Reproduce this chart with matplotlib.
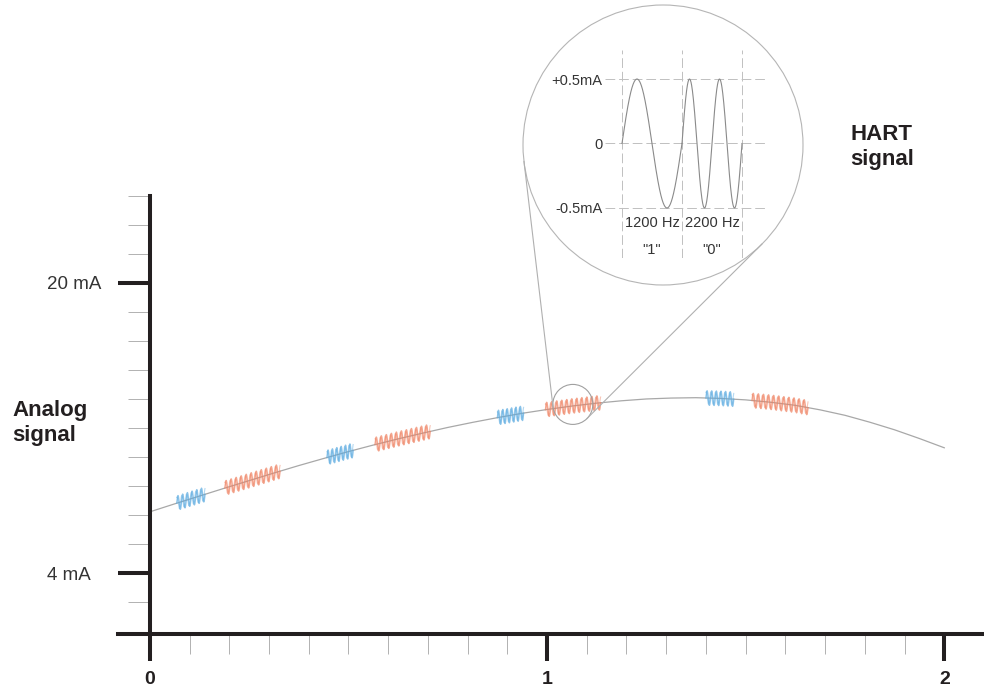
import numpy as np
import matplotlib
matplotlib.use("Agg")
import matplotlib.pyplot as plt
from matplotlib.patches import Circle

plt.rcParams['font.family'] = ['Liberation Sans', 'DejaVu Sans']

INK = '#231f20'
GRID = '#b3b3b3'

# analog loop current (mA), time in arbitrary units
t_pts = [0, 0.0625, 0.125, 0.1875, 0.25, 0.3125, 0.375, 0.4375, 0.5,
         0.5625, 0.625, 0.6875, 0.75, 0.8125, 0.875, 0.9375, 1.0,
         1.0625, 1.125, 1.1875, 1.25, 1.3125, 1.375, 1.4375, 1.5,
         1.5625, 1.625, 1.6875, 1.75, 1.8125, 1.875, 1.9375, 2.0]
ma_pts = [7.38, 7.82, 8.25, 8.68, 9.10, 9.52, 9.93, 10.32, 10.70,
          11.06, 11.40, 11.72, 12.03, 12.31, 12.57, 12.81, 13.02,
          13.21, 13.37, 13.50, 13.60, 13.65, 13.67, 13.63, 13.55,
          13.42, 13.25, 13.00, 12.70, 12.32, 11.90, 11.42, 10.91]

# HART bursts riding on the analog signal
burst_start = [0.068, 0.189, 0.446, 0.567, 0.875, 0.996, 1.400, 1.516]
burst_end = [0.139, 0.328, 0.512, 0.706, 0.941, 1.135, 1.470, 1.657]
burst_bit = ['1', '0', '1', '0', '1', '0', '1', '0']
burst_cycles = {'1': 6, '0': 11}
burst_color = {'1': '#5aaae0', '0': '#ef8060'}
burst_amp = 0.4

y_major = [4, 20]
y_major_labels = ['4 mA', '20 mA']
x_major = [0, 1, 2]

# magnified view: one bit of each frequency
bit_edges = [0, 1, 2]
bit_cycles = [1, 2]
bit_freq_labels = ['1200 Hz', '2200 Hz']
bit_value_labels = ['"1"', '"0"']
inset_levels = [-0.5, 0, 0.5]
inset_level_labels = ['-0.5mA', '0', '+0.5mA']
zoom_t, zoom_ma = 1.065, 13.3

fig = plt.figure(figsize=(9.84, 6.91), dpi=100)
ax = fig.add_axes([118 / 984, 57 / 691, 866 / 984, 438.3 / 691])
ax.set_xlim(-0.08, 2.1)
ax.set_ylim(0.65, 24.8)
for s in ['top', 'right']:
    ax.spines[s].set_visible(False)
ax.spines['left'].set_position(('data', 0))
for s in ['left', 'bottom']:
    ax.spines[s].set_linewidth(2.9)
    ax.spines[s].set_color(INK)

ax.set_xticks(x_major, [str(v) for v in x_major])
ax.set_xticks(np.arange(0.1, 2.0, 0.1), minor=True)
ax.tick_params(axis='x', which='major', length=19.5, width=2.9, color=INK,
               pad=7, labelsize=14, labelcolor=INK)
ax.tick_params(axis='x', which='minor', length=14.5, width=0.72, color=GRID)
for lbl in ax.get_xticklabels():
    lbl.set_fontweight('bold')

ax.set_yticks(y_major, y_major_labels)
ax.set_yticks(np.arange(2.4, 25.0, 1.6), minor=True)
ax.tick_params(axis='y', which='major', length=23, width=2.9, color=INK,
               pad=51, labelsize=13.5, labelcolor='#333333')
ax.tick_params(axis='y', which='minor', length=16, width=0.72, color=GRID)
for lbl in ax.get_yticklabels():
    lbl.set_horizontalalignment('left')

ax.plot(t_pts, ma_pts, color='#a8a8a8', lw=0.9, zorder=2)

for s0, s1, b in zip(burst_start, burst_end, burst_bit):
    tt = np.linspace(s0, s1, 500)
    base = np.interp(tt, t_pts, ma_pts)
    ph = 2 * np.pi * burst_cycles[b] * (tt - s0) / (s1 - s0)
    ax.plot(tt, base + burst_amp * np.sin(ph), color=burst_color[b], lw=1.0, alpha=0.7, zorder=3)
    ax.plot(tt, base + burst_amp * 0.85 * np.sin(ph + 1.2), color=burst_color[b], lw=0.8, alpha=0.45, zorder=3)

fig.text(12 / 984, 1 - 423 / 691, 'Analog\nsignal', fontsize=16, fontweight='bold',
         ha='left', va='center', linespacing=1.25, color=INK)
fig.text(850 / 984, 1 - 147 / 691, 'HART\nsignal', fontsize=16, fontweight='bold',
         ha='left', va='center', linespacing=1.25, color=INK)

# magnifier overlay in pixel coordinates
ov = fig.add_axes([0, 0, 1, 1])
ov.set_xlim(0, 984)
ov.set_ylim(0, 691)
ov.axis('off')
c1 = np.array(ax.transData.transform((zoom_t, zoom_ma)))
r1 = 20
c2 = np.array([663, 691 - 145])
r2 = 140
ov.add_patch(Circle(c2, r2, facecolor='white', edgecolor='#b5b5b5', lw=0.8))
ov.add_patch(Circle(c1, r1, facecolor='none', edgecolor='#a0a0a0', lw=0.8))
d = c2 - c1
D = np.hypot(*d)
phi = np.arctan2(d[1], d[0])
alpha = np.arccos((r1 - r2) / D)
for sgn in (1, -1):
    n = np.array([np.cos(phi + sgn * alpha), np.sin(phi + sgn * alpha)])
    p1 = c1 + r1 * n
    p2 = c2 + r2 * n
    ov.plot([p1[0], p2[0]], [p1[1], p2[1]], color='#b0b0b0', lw=0.8)

ax_in = fig.add_axes([605 / 984, 1 - 258 / 691, 160 / 984, 208 / 691])
ax_in.patch.set_alpha(0)
ax_in.set_xlim(-0.283, 2.383)
ax_in.set_ylim(-0.888, 0.725)
for s in ax_in.spines.values():
    s.set_visible(False)
ax_in.set_xticks([])
ax_in.set_yticks(inset_levels, inset_level_labels)
ax_in.tick_params(axis='y', length=0, pad=2, labelsize=10.5, labelcolor='#333333')
for v in inset_levels:
    ax_in.axhline(v, ls=(0, (10, 4)), lw=0.7, color='#c0c0c0')
for e in bit_edges:
    ax_in.axvline(e, ls=(0, (10, 4)), lw=0.7, color='#c0c0c0')
for i in range(len(bit_cycles)):
    tt = np.linspace(bit_edges[i], bit_edges[i + 1], 300)
    ax_in.plot(tt, 0.5 * np.sin(2 * np.pi * bit_cycles[i] * (tt - bit_edges[i])),
               color='#8a8a8a', lw=0.8)
    mid = (bit_edges[i] + bit_edges[i + 1]) / 2
    ax_in.text(mid, -0.614, bit_freq_labels[i], ha='center', va='center',
               fontsize=10.5, color='#333333')
    ax_in.text(mid, -0.823, bit_value_labels[i], ha='center', va='center',
               fontsize=10.5, color='#333333')

fig.savefig('out.png', dpi=100)
